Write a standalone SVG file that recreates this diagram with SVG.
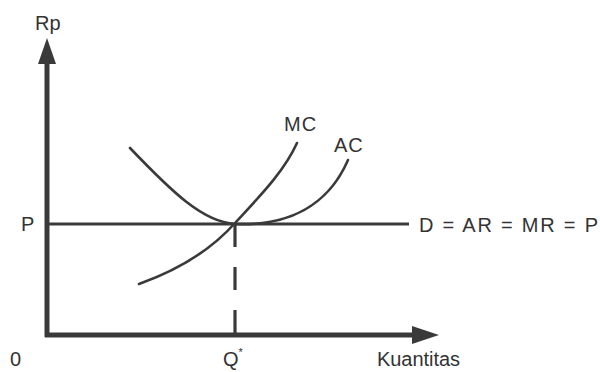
<svg xmlns="http://www.w3.org/2000/svg" width="600" height="372" viewBox="0 0 600 372">
<style>
.lbl{font-family:"Liberation Sans",Arial,sans-serif;font-size:20px;fill:#333}
.axis{stroke:#3a3a3a;stroke-width:5;fill:none}
.curve{stroke:#3a3a3a;stroke-width:2.6;fill:none;stroke-linecap:round}
.line{stroke:#3a3a3a;stroke-width:3.2;fill:none}
.head{fill:#3a3a3a}
</style>
<rect width="600" height="372" fill="#fff"/>
<g id="axes">
  <line class="axis" x1="47" y1="337" x2="47" y2="58"/>
  <polygon class="head" points="47,38 38,64 56,64"/>
  <line class="axis" x1="45" y1="335" x2="416" y2="335"/>
  <polygon class="head" points="439,335 412,326 412,344"/>
  <text class="lbl" x="35" y="30">Rp</text>
  <text class="lbl" x="10" y="366">0</text>
  <text class="lbl" x="377" y="366" textLength="83" lengthAdjust="spacing">Kuantitas</text>
</g>
<g id="connectors">
  <line class="line" x1="49" y1="224" x2="409" y2="224"/>
  <line class="line" x1="235" y1="224" x2="235" y2="334" stroke-dasharray="23 20"/>
</g>
<g id="AC">
  <path class="curve" d="M130,148 C172,192 203,222 235,224 C288,226 328,206 348,160"/>
  <text class="lbl" x="334" y="152" letter-spacing="1">AC</text>
</g>
<g id="MC">
  <path class="curve" d="M139,284 C178,270 212,249 235,223 C258,198 284,172 297,143"/>
  <text class="lbl" x="284" y="131" letter-spacing="1">MC</text>
</g>
<g id="D">
  <text class="lbl" x="419" y="232" textLength="179" lengthAdjust="spacing">D = AR = MR = P</text>
</g>
<g id="P">
  <text class="lbl" x="21" y="231">P</text>
</g>
<g id="Q">
  <text class="lbl" x="223" y="366">Q<tspan font-size="11" dy="-10">*</tspan></text>
</g>
</svg>
